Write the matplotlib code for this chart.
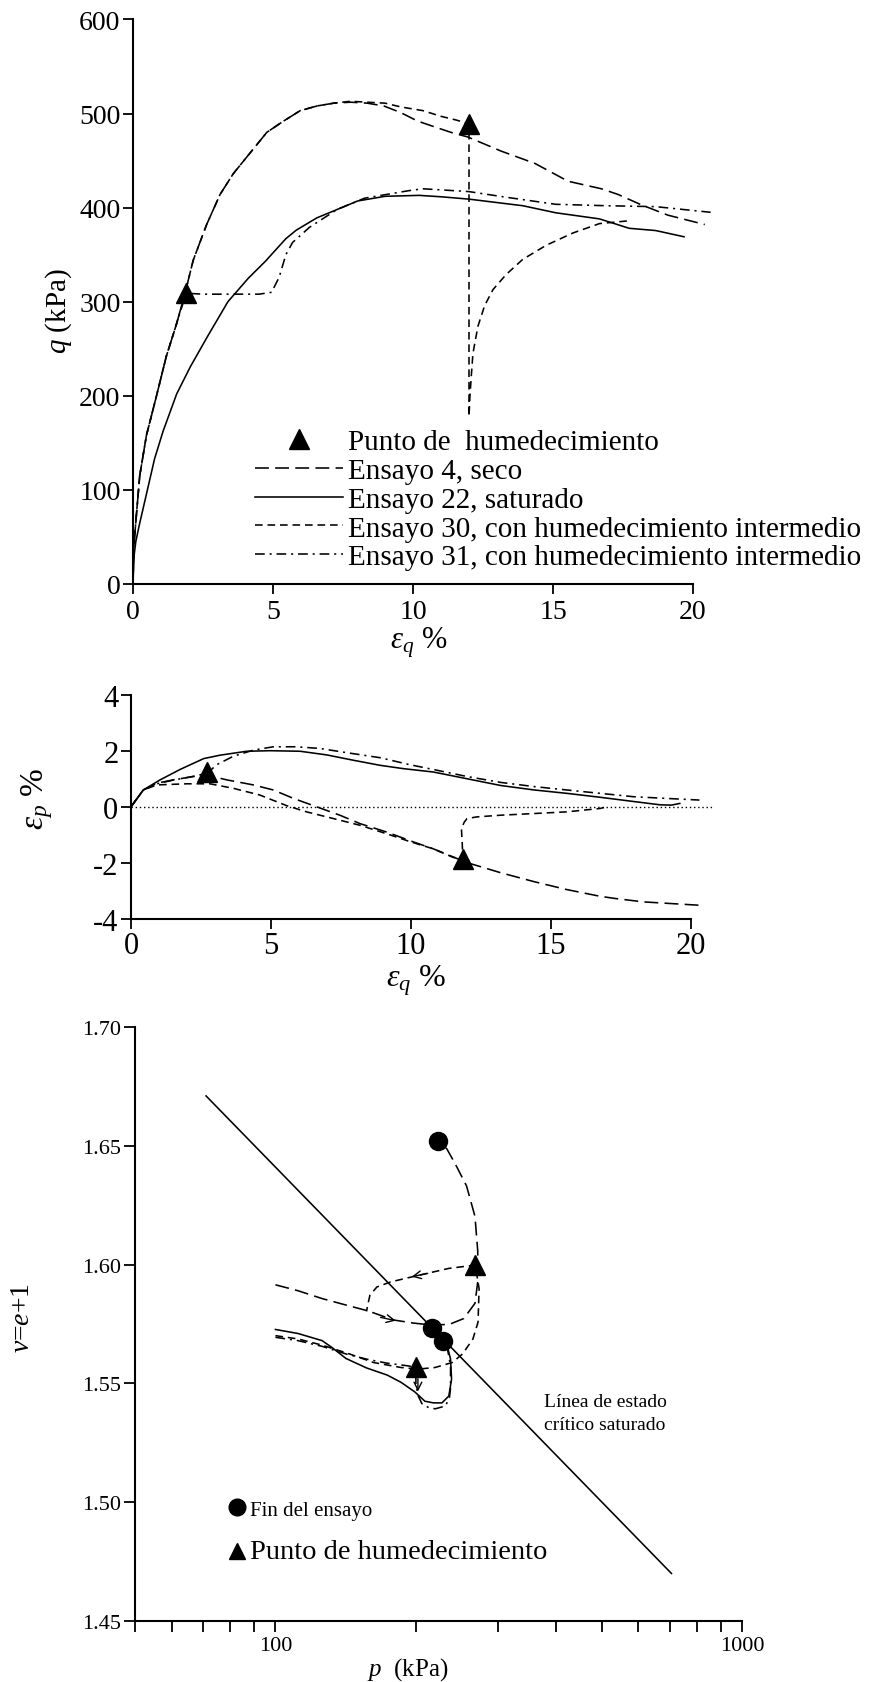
import matplotlib
matplotlib.use("Agg")
import matplotlib.pyplot as plt
from matplotlib.lines import Line2D
from matplotlib.ticker import FixedLocator, NullFormatter, FixedFormatter

plt.rcParams['font.family'] = ['Liberation Serif', 'DejaVu Serif']
plt.rcParams['mathtext.fontset'] = 'custom'
plt.rcParams['mathtext.rm'] = 'Liberation Serif'
plt.rcParams['mathtext.it'] = 'Liberation Serif:italic'
plt.rcParams['mathtext.bf'] = 'Liberation Serif:bold'
plt.rcParams['axes.unicode_minus'] = False
plt.rcParams['lines.scale_dashes'] = False

# ---------------- q - eps_q ----------------
ens4_eq = [0, 0.03, 0.12, 0.24, 0.48, 0.84, 1.19, 1.55, 1.85, 2.15, 2.63, 3.11, 3.58, 4.18,
           4.78, 5.38, 5.97, 6.57, 7.17, 7.77, 8.36, 8.96, 9.56, 10.16, 10.75, 11.35, 11.96,
           13.15, 14.35, 15.54, 16.73, 17.32, 18.15, 19.1, 20.42]
ens4_q = [0, 40, 73, 115, 158, 200, 242, 276, 308, 344, 382, 414, 436, 458,
          480, 492, 503, 508, 511, 512, 511, 508, 501, 492, 486, 480, 475,
          460, 447, 428, 420, 414, 403, 392, 382]

ens22_eq = [0, 0.03, 0.1, 0.22, 0.46, 0.77, 1.07, 1.56, 2.05, 2.66, 3.39, 4.12, 4.73, 5.46,
            5.83, 6.56, 7.29, 8.02, 9.0, 10.22, 11.0, 12.0, 13.92, 15.1, 16.66, 17.13, 17.72,
            18.67, 19.68]
ens22_q = [0, 28, 45, 62, 93, 133, 162, 202, 231, 263, 300, 325, 343, 367,
           376, 389, 398, 407, 412, 413, 411.5, 409, 402, 394.5, 388, 383.6, 378,
           375.6, 369]

ens30_eq = [0, 0.03, 0.12, 0.24, 0.48, 0.84, 1.19, 1.55, 1.85, 2.15, 2.63, 3.11, 3.58, 4.18,
            4.78, 5.38, 5.97, 6.57, 7.17, 7.77, 8.36, 9.0, 9.56, 10.36, 11.0, 11.55, 12.0,
            12.0, 12.03, 12.08, 12.14, 12.32, 12.56, 12.86, 13.33, 13.92, 14.76, 15.71,
            16.66, 17.72]
ens30_q = [0, 40, 73, 115, 158, 200, 242, 276, 308, 344, 382, 414, 436, 458,
           480, 492, 503, 508, 511, 513, 512, 511, 507, 503, 497, 493, 489,
           178, 198, 220, 245, 274, 296, 313, 329, 345, 360, 373,
           383, 386]

ens31_eq = [0, 0.03, 0.12, 0.24, 0.48, 0.84, 1.19, 1.55, 1.9, 2.5, 3.5, 4.5, 4.95, 5.05,
            5.22, 5.46, 5.7, 6.3, 7.29, 8.27, 9.85, 10.36, 12.0, 13.33, 15.1, 16.9, 18.67,
            20.63]
ens31_q = [0, 40, 73, 115, 158, 200, 242, 276, 309, 308, 308, 308, 310, 316,
           326, 350, 363, 379, 398, 410, 418, 420, 417, 411, 403.5, 402, 401,
           395]

wet_eq_q = [1.9, 12.0]
wet_q = [309, 489]

# ---------------- eps_p - eps_q ----------------
m22_eq = [0, 0.44, 1.04, 1.75, 2.6, 3.18, 4.13, 4.96, 6.04, 6.99, 7.94, 8.89, 9.73, 10.8,
          12.0, 13.2, 14.4, 15.56, 16.75, 17.94, 18.9, 19.3, 19.6]
m22_ep = [0, 0.6, 0.96, 1.33, 1.72, 1.84, 1.98, 2.0, 1.98, 1.85, 1.66, 1.48, 1.36, 1.24,
          1.0, 0.76, 0.6, 0.48, 0.34, 0.19, 0.07, 0.06, 0.12]

m4_eq = [0, 0.44, 0.92, 1.51, 2.23, 2.76, 3.42, 4.37, 5.08, 5.8, 6.63, 7.46, 8.18, 9.13,
         10.08, 10.8, 12.0, 13.2, 14.4, 15.56, 16.75, 17.3, 18.3, 20.3]
m4_ep = [0, 0.6, 0.84, 0.96, 1.08, 1.12, 0.96, 0.78, 0.6, 0.3, 0.0, -0.3, -0.6, -0.9,
         -1.25, -1.5, -1.99, -2.35, -2.67, -2.95, -3.19, -3.27, -3.39, -3.51]

m30_eq = [0, 0.44, 0.92, 1.99, 2.82, 3.65, 4.6, 5.56, 6.27, 7.23, 8.18, 9.13, 9.96, 10.8,
          11.5, 11.85, 11.83, 11.8, 11.9, 12.0, 12.35, 13.2, 14.4, 15.56, 16.75, 17.0]
m30_ep = [0, 0.6, 0.78, 0.82, 0.82, 0.66, 0.42, 0.04, -0.18, -0.42, -0.66, -0.96, -1.24, -1.5,
          -1.8, -1.87, -1.3, -0.78, -0.55, -0.42, -0.36, -0.3, -0.24, -0.18, -0.06, 0.0]

m31_eq = [0, 0.44, 0.92, 1.5, 2.2, 2.73, 3.06, 3.65, 4.37, 5.08, 5.9, 6.75, 7.7, 8.9,
          9.96, 10.8, 12.0, 13.2, 14.4, 15.56, 16.75, 17.94, 19.1, 20.3]
m31_ep = [0, 0.6, 0.82, 0.95, 1.08, 1.2, 1.5, 1.8, 2.02, 2.14, 2.14, 2.08, 1.93, 1.75,
          1.5, 1.33, 1.08, 0.87, 0.72, 0.6, 0.48, 0.36, 0.3, 0.24]

wet_eq_p = [2.73, 11.85]
wet_ep = [1.25, -1.85]

# ---------------- v - log p ----------------
v4_p = [100, 111.8, 125.9, 141.5, 158, 179, 197.4, 217.5, 236.3, 253.3, 267.7, 271.4, 271.4,
        267.7, 256.8, 243, 233, 223.6]
v4_v = [1.5915, 1.5890, 1.5857, 1.5830, 1.5805, 1.5767, 1.5754, 1.5745, 1.5749, 1.5773,
        1.5837, 1.5928, 1.6057, 1.6203, 1.6331, 1.6423, 1.6487, 1.6518]

v22_p = [100, 111.8, 125.9, 132.4, 141.6, 156.8, 173.6, 185.7, 198.7, 209.1, 218, 227.5,
         235.3, 238.5, 237.3, 234, 230]
v22_v = [1.5727, 1.5710, 1.5680, 1.5650, 1.5605, 1.5565, 1.5535, 1.5505, 1.5465, 1.5425,
         1.5418, 1.5418, 1.5447, 1.5518, 1.5602, 1.5650, 1.5672]

v30_p = [100, 111.8, 125.9, 144.1, 162.2, 185.7, 202.1, 219.9, 239.3, 251.8, 265.0, 271.8,
         273.2, 268.1, 235.3, 198.7, 176.5, 165, 159.4, 157.6, 156.8]
v30_v = [1.5701, 1.5687, 1.5661, 1.5624, 1.5588, 1.5567, 1.5560, 1.5567, 1.5588, 1.5624,
         1.5687, 1.5758, 1.5899, 1.5998, 1.5984, 1.5951, 1.5927, 1.5906, 1.5871, 1.5828, 1.5803]

v31_p = [100, 111.8, 125.9, 141.6, 156.8, 173.6, 192.1, 200, 200, 202, 206, 213, 220, 231.4,
         236, 237.3, 237.3, 234, 229]
v31_v = [1.5694, 1.5680, 1.5656, 1.5624, 1.5602, 1.5585, 1.5574, 1.5567, 1.5500, 1.5450,
         1.5415, 1.5398, 1.5393, 1.5405, 1.5440, 1.5480, 1.5574, 1.5640, 1.5676]

csl_p = [71, 706]
csl_v = [1.671, 1.470]

end_p = [223.6, 216.3, 228.7]
end_v = [1.652, 1.5732, 1.568]
wet_p = [268.1, 200]
wet_v = [1.5998, 1.5567]

# arrow (tail, head) pairs along the v - p paths
arrows = [((168, 1.5778), (181, 1.5764)),
          ((212, 1.5963), (196, 1.5949)),
          ((202, 1.5520), (202, 1.5466))]

# line styles
LONG = (0, (10, 4.5))
SHORT = (0, (5.5, 3.5))
DASHDOT = (0, (7, 3.5, 1.5, 3.5))
LW = 1.15
K = 'black'

W, H = 877, 1683
fig = plt.figure(figsize=(W / 100, H / 100), dpi=100)


def style_axes(ax, fs):
    for s in ('top', 'right'):
        ax.spines[s].set_visible(False)
    for s in ('left', 'bottom'):
        ax.spines[s].set_linewidth(1.5)
    ax.tick_params(direction='out', length=7, width=1.3, labelsize=fs, pad=2)


# ---- top panel ----
ax1 = fig.add_axes([133 / W, 1 - 585 / H, 588 / W, 564.6 / H])
ax1.set_xlim(0, 21)
ax1.set_ylim(0, 600)
style_axes(ax1, 20)
ax1.tick_params(axis='x', pad=4)
ax1.spines['bottom'].set_bounds(0, 20)
ax1.set_xticks([0, 5, 10, 15, 20])
ax1.set_yticks([0, 100, 200, 300, 400, 500, 600])
h4, = ax1.plot(ens4_eq, ens4_q, color=K, lw=LW, ls=LONG)
h22, = ax1.plot(ens22_eq, ens22_q, color=K, lw=LW, ls='-')
h30, = ax1.plot(ens30_eq, ens30_q, color=K, lw=LW, ls=SHORT)
h31, = ax1.plot(ens31_eq, ens31_q, color=K, lw=LW, ls=DASHDOT)
ht, = ax1.plot(wet_eq_q, wet_q, ls='none', marker='^', ms=15, color=K, zorder=5)
ax1.set_xlabel(r'$\varepsilon_q$ %', fontsize=22)
ax1.xaxis.label.set_va('center')
ax1.xaxis.set_label_coords(0.486, -0.102)
ax1.set_ylabel(r'$q$ (kPa)', fontsize=21)
ax1.yaxis.label.set_va('center')
ax1.yaxis.set_label_coords(-0.127, 0.485)
leg_handles = [Line2D([], [], ls='none', marker='^', ms=15, color=K),
               Line2D([], [], color=K, lw=LW, ls=LONG),
               Line2D([], [], color=K, lw=LW, ls='-'),
               Line2D([], [], color=K, lw=LW, ls=SHORT),
               Line2D([], [], color=K, lw=LW, ls=DASHDOT)]
leg_labels = ['Punto de  humedecimiento',
              'Ensayo 4, seco',
              'Ensayo 22, saturado',
              'Ensayo 30, con humedecimiento intermedio',
              'Ensayo 31, con humedecimiento intermedio']
ax1.legend(leg_handles, leg_labels, loc='upper left',
           bbox_to_anchor=(255 / W, 1 - 430 / H), bbox_transform=fig.transFigure,
           frameon=False, fontsize=21, handlelength=3.0, handletextpad=0.2,
           labelspacing=0.08, borderpad=0, borderaxespad=0)

# ---- middle panel ----
ax2 = fig.add_axes([131 / W, 1 - 920 / H, 588 / W, 224.4 / H])
ax2.set_xlim(0, 21)
ax2.set_ylim(-4, 4)
style_axes(ax2, 22)
ax2.spines['bottom'].set_bounds(0, 20)
ax2.set_xticks([0, 5, 10, 15, 20])
ax2.set_yticks([-4, -2, 0, 2, 4])
ax2.plot([0, 20.8], [0, 0], color=K, lw=1.0, ls=(0, (1, 2)))
ax2.plot(m22_eq, m22_ep, color=K, lw=LW, ls='-')
ax2.plot(m4_eq, m4_ep, color=K, lw=LW, ls=LONG)
ax2.plot(m30_eq, m30_ep, color=K, lw=LW, ls=SHORT)
ax2.plot(m31_eq, m31_ep, color=K, lw=LW, ls=DASHDOT)
ax2.plot(wet_eq_p, wet_ep, ls='none', marker='^', ms=15, color=K, zorder=5)
ax2.set_xlabel(r'$\varepsilon_q$ %', fontsize=23)
ax2.xaxis.label.set_va('center')
ax2.xaxis.set_label_coords(0.485, -0.27)
ax2.set_ylabel(r'$\varepsilon_p$ %', fontsize=24)
ax2.yaxis.label.set_va('center')
ax2.yaxis.set_label_coords(-0.16, 0.54)

# ---- bottom panel ----
ax3 = fig.add_axes([135 / W, 1 - 1622 / H, 607 / W, 594 / H])
ax3.set_xscale('log')
ax3.set_xlim(50, 1000)
ax3.set_ylim(1.45, 1.70)
style_axes(ax3, 16)
ax3.tick_params(axis='both', which='both', direction='out', length=8, width=1.3)
ax3.xaxis.set_major_locator(FixedLocator([100, 1000]))
ax3.xaxis.set_major_formatter(FixedFormatter(['100', '1000']))
ax3.xaxis.set_minor_locator(FixedLocator([50, 60, 70, 80, 90, 200, 300, 400, 500, 600,
                                          700, 800, 900]))
ax3.xaxis.set_minor_formatter(NullFormatter())
ax3.tick_params(axis='x', which='both', pad=3)
ax3.set_yticks([1.45, 1.50, 1.55, 1.60, 1.65, 1.70])
ax3.set_yticklabels(['1.45', '1.50', '1.55', '1.60', '1.65', '1.70'])
ax3.plot(csl_p, csl_v, color=K, lw=LW)
ax3.plot(v4_p, v4_v, color=K, lw=LW, ls=LONG)
ax3.plot(v22_p, v22_v, color=K, lw=LW, ls='-')
ax3.plot(v30_p, v30_v, color=K, lw=LW, ls=SHORT)
ax3.plot(v31_p, v31_v, color=K, lw=LW, ls=DASHDOT)
for tail, head in arrows:
    ax3.annotate('', xy=head, xytext=tail,
                 arrowprops=dict(arrowstyle='->', color=K, lw=1.0,
                                 shrinkA=0, shrinkB=0, mutation_scale=14))
hc, = ax3.plot(end_p, end_v, ls='none', marker='o', ms=13, color=K, zorder=5)
htr, = ax3.plot(wet_p, wet_v, ls='none', marker='^', ms=14, color=K, zorder=5)
ax3.text(544 / W, 1 - 1414 / H, 'Línea de estado\ncrítico saturado', transform=fig.transFigure,
         fontsize=14, ha='left', va='center', linespacing=1.45)
ax3.set_xlabel(r'$p$  (kPa)', fontsize=18)
ax3.xaxis.label.set_va('center')
ax3.xaxis.set_label_coords(0.45, -0.08)
ax3.set_ylabel(r'$\nu$=$e$+1', fontsize=20)
ax3.yaxis.label.set_va('center')
ax3.yaxis.set_label_coords(-0.186, 0.512)
leg3 = ax3.legend([Line2D([], [], ls='none', marker='o', ms=12, color=K),
                   Line2D([], [], ls='none', marker='^', ms=12, color=K)],
                  ['Fin del ensayo', 'Punto de humedecimiento'], loc='upper left',
                  bbox_to_anchor=(228 / W, 1 - 1501 / H), bbox_transform=fig.transFigure,
                  frameon=False, fontsize=15, handlelength=0.9, handletextpad=0.15,
                  labelspacing=0.95, borderpad=0, borderaxespad=0)
leg3.get_texts()[1].set_fontsize(20.5)

fig.savefig('out.png', dpi=100)
